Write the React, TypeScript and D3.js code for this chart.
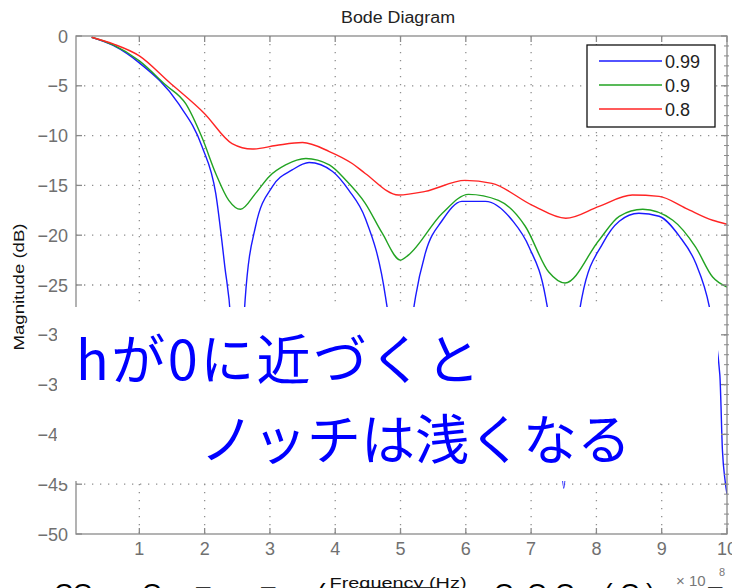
import React from 'react';
import * as d3 from 'd3';

const W = 732;
const H = 588;
const plot = { left: 76, right: 727, top: 36, bottom: 534 };

// axis ticks
const xTicks = [1, 2, 3, 4, 5, 6, 7, 8, 9, 10];
const yTicks = [0, -5, -10, -15, -20, -25, -30, -35, -40, -45, -50];
const yMinor = d3.range(-1, -50, -1);

// h = 0.99 (blue); notch bottoms are mostly hidden by the box
const freqBlue = [0.27, 0.6, 1.0, 1.6, 1.96, 2.17, 2.31, 2.4, 2.47, 2.5, 2.53, 2.62, 2.78, 3.04, 3.34, 3.6, 3.96, 4.21, 4.46, 4.77, 4.92, 5.0, 5.08, 5.23, 5.38, 5.64, 5.94, 6.3, 6.71, 6.97, 7.22, 7.4, 7.5, 7.6, 7.78, 8.1, 8.35, 8.65, 8.96, 9.27, 9.52, 9.73, 9.89, 9.93, 9.97, 10.0];
const magBlue = [-0.13, -0.95, -2.7, -6.8, -11.1, -15.8, -23.2, -28.5, -38, -42, -38, -26.5, -19.1, -15.1, -13.45, -12.7, -13.6, -15.5, -18.3, -26.2, -34, -42, -34, -26.2, -21.8, -18.5, -16.6, -16.6, -18.5, -21.2, -26.2, -35, -45.4, -35, -26.2, -20.8, -18.6, -17.8, -18.1, -20.1, -22.8, -27.2, -34, -41.6, -44.6, -46];

// h = 0.9 (green)
const freqGreen = [0.27, 0.6, 1.0, 1.4, 1.71, 1.96, 2.17, 2.37, 2.55, 2.78, 2.99, 3.24, 3.55, 3.91, 4.16, 4.46, 4.72, 5.0, 5.12, 5.64, 6.04, 6.5, 6.91, 7.27, 7.52, 8.04, 8.35, 8.71, 9.17, 9.52, 9.78, 10.0];
const magGreen = [-0.13, -0.9, -2.5, -4.9, -6.8, -10.2, -13.8, -16.5, -17.4, -15.8, -14.1, -12.95, -12.3, -12.95, -14.46, -16.8, -19.8, -22.5, -22.0, -17.8, -15.9, -16.5, -19.1, -23.7, -24.8, -20.5, -18.1, -17.4, -18.5, -21.2, -24.2, -25.2];

// h = 0.8 (red)
const freqRed = [0.27, 0.6, 1.0, 1.45, 2.0, 2.42, 2.73, 3.09, 3.5, 3.91, 4.26, 4.46, 4.97, 5.38, 5.99, 6.4, 7.02, 7.53, 8.04, 8.55, 8.96, 9.37, 9.78, 10.0];
const magRed = [-0.13, -0.8, -2.0, -4.6, -7.8, -10.8, -11.35, -11.0, -10.7, -11.6, -12.8, -13.8, -15.96, -15.6, -14.5, -14.8, -17.0, -18.3, -17.1, -15.96, -16.1, -17.3, -18.5, -18.9];

const series = [
  { label: '0.99', color: '#1a1aff', f: freqBlue, m: magBlue },
  { label: '0.9', color: '#22a322', f: freqGreen, m: magGreen },
  { label: '0.8', color: '#ff2424', f: freqRed, m: magRed },
];

const noteLines = ['hが0に近づくと', 'ノッチは浅くなる'];

// big slide text below the figure, only its top edge is in frame
const bottomBits = [
  { x: 54, y: 602, t: 'CO' },
  { x: 142, y: 602, t: 'O' },
  { x: 196, y: 595, t: '–' },
  { x: 261, y: 595, t: '–' },
  { x: 317, y: 602, t: '(' },
  { x: 359, y: 595, t: '———' },
  { x: 494, y: 602, t: 'O' },
  { x: 527, y: 602, t: 'O' },
  { x: 555, y: 602, t: 'O' },
  { x: 604, y: 602, t: '(' },
  { x: 620, y: 602, t: 'O' },
  { x: 646, y: 602, t: ')' },
  { x: 708, y: 595, t: '–' },
];

const tickFont = '"Liberation Sans", Arial, sans-serif';

export default function App() {
  const x = d3.scaleLinear().domain([0.03, 10]).range([plot.left, plot.right]);
  const y = d3.scaleLinear().domain([-50, 0]).range([plot.bottom, plot.top]);

  const pathFor = (f: number[], m: number[]) =>
    d3.line<number>()
      .x((_, i) => x(f[i]))
      .y(d => y(d))
      .curve(d3.curveMonotoneX)(m) || '';

  const axisColor = '#8a8a8a';
  const gridColor = '#8f8f8f';
  const tickLen = 6;

  return (
    <svg width={W} height={H} style={{ position: 'absolute', left: 0, top: 0, background: '#fff' }}>
      <defs>
        <clipPath id="plotClip">
          <rect x={plot.left} y={plot.top} width={plot.right - plot.left} height={plot.bottom - plot.top} />
        </clipPath>
      </defs>
      <rect x={0} y={0} width={W} height={H} fill="#fff" />

      {/* title */}
      <text x={398} y={23} textAnchor="middle" fontFamily={tickFont} fontSize={16} fill="#222"
        textLength={114} lengthAdjust="spacingAndGlyphs">Bode Diagram</text>

      {/* grid */}
      <g stroke={gridColor} strokeWidth={1.3} strokeDasharray="1.3 6.7">
        {xTicks.slice(0, -1).map(t => (
          <line key={'gx' + t} x1={x(t)} x2={x(t)} y1={plot.top} y2={plot.bottom} />
        ))}
        {yTicks.slice(1, -1).map(t => (
          <line key={'gy' + t} x1={plot.left} x2={plot.right} y1={y(t)} y2={y(t)} />
        ))}
      </g>

      {/* curves */}
      <g clipPath="url(#plotClip)" fill="none" strokeWidth={1.4}>
        {series.map(s => (
          <path key={s.label} d={pathFor(s.f, s.m)} stroke={s.color} />
        ))}
      </g>

      {/* frame and ticks */}
      <g stroke={axisColor} strokeWidth={1.3}>
        <rect x={plot.left} y={plot.top} width={plot.right - plot.left} height={plot.bottom - plot.top} fill="none" />
        {xTicks.map(t => (
          <g key={'tx' + t}>
            <line x1={x(t)} x2={x(t)} y1={plot.bottom} y2={plot.bottom - tickLen} />
            <line x1={x(t)} x2={x(t)} y1={plot.top} y2={plot.top + tickLen} />
          </g>
        ))}
        {yTicks.map(t => (
          <g key={'ty' + t}>
            <line x1={plot.left} x2={plot.left + tickLen} y1={y(t)} y2={y(t)} />
            <line x1={plot.right} x2={plot.right - tickLen} y1={y(t)} y2={y(t)} />
          </g>
        ))}
        {yMinor.map(t => (
          <line key={'tm' + t} x1={plot.right - 3} x2={plot.right + 2} y1={y(t)} y2={y(t)} strokeWidth={1} />
        ))}
      </g>

      {/* tick labels */}
      <g fontFamily={tickFont} fontSize={18} fill="#707070">
        {yTicks.map(t => (
          <text key={'ly' + t} x={plot.left - 8} y={y(t) + 6.5} textAnchor="end">
            {t === 0 ? '0' : '\u2212' + Math.abs(t)}
          </text>
        ))}
        {xTicks.map(t => (
          <text key={'lx' + t} x={x(t)} y={555} textAnchor="middle">{t}</text>
        ))}
      </g>

      {/* legend */}
      <g>
        <rect x={587} y={45} width={128} height={82} fill="#fff" stroke="#111" strokeWidth={1.3} />
        {series.map((s, i) => (
          <g key={'lg' + s.label} transform={`translate(0, ${61 + i * 24})`}>
            <line x1={599} x2={662} y1={0} y2={0} stroke={s.color} strokeWidth={1.5} />
            <text x={665} y={6.5} fontFamily={tickFont} fontSize={18} fill="#222">{s.label}</text>
          </g>
        ))}
      </g>

      {/* annotation box pasted over the plot */}
      <rect x={57} y={307} width={661} height={174} fill="#fff" />
      <g fontFamily='"Noto Sans CJK JP", sans-serif' fontSize={54} fill="#0000ff">
        <text x={76} y={380} textLength={404} lengthAdjust="spacing">{noteLines[0]}</text>
        <text x={200} y={460}>{noteLines[1]}</text>
      </g>

      {/* axis labels */}
      <text transform={`translate(24, 287) rotate(-90)`} textAnchor="middle" fontFamily={tickFont} fontSize={15}
        fill="#111" textLength={127} lengthAdjust="spacingAndGlyphs">Magnitude (dB)</text>

      <g fontFamily={tickFont} fontSize={26} fill="#000">
        {bottomBits.map((b, i) => (
          <text key={'bb' + i} x={b.x} y={b.y}>{b.t}</text>
        ))}
      </g>

      <text x={398} y={588} textAnchor="middle" fontFamily={tickFont} fontSize={15} fill="#111"
        textLength={137} lengthAdjust="spacingAndGlyphs">Frequency (Hz)</text>
      <text x={676} y={586} fontFamily={tickFont} fontSize={15} fill="#777">× 10</text>
      <text x={719} y={576} fontFamily={tickFont} fontSize={11} fill="#777">8</text>
    </svg>
  );
}
